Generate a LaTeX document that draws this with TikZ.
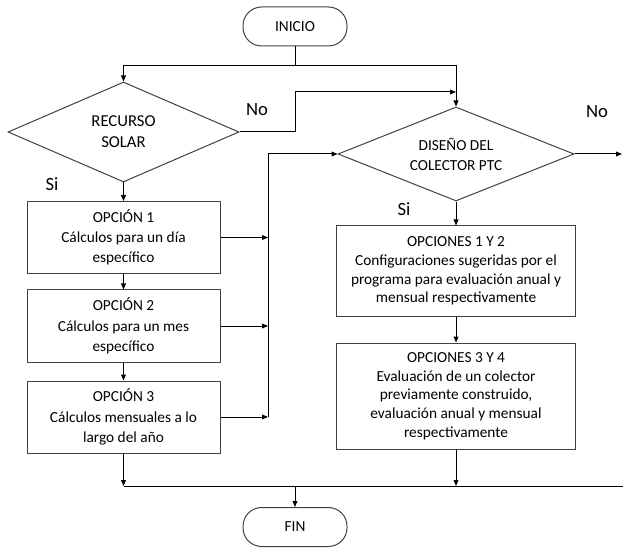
\documentclass[tikz,border=0pt]{standalone}
\usepackage{fontspec}
\setmainfont{Carlito}
\usepackage{xcolor}
\usetikzlibrary{shapes.geometric,arrows.meta}

\definecolor{borde}{RGB}{64,64,64}

\begin{document}
\begin{tikzpicture}[x=0.75pt, y=-0.75pt, line width=0.75pt,
    >={Triangle[length=4.5pt,width=3.6pt]},
    terminal/.style={draw=borde, rectangle, rounded corners=14pt, minimum width=78pt, minimum height=29.25pt, font=\fontsize{11.5}{14}\selectfont},
    decision/.style={draw=borde, diamond, inner sep=0pt, align=center, font=\fontsize{11.5}{15}\selectfont},
    caja/.style={draw=borde, rectangle, inner sep=0pt, align=center, minimum width=144.75pt, minimum height=54pt, font=\fontsize{11.5}{15.25}\selectfont},
    cajaB/.style={draw=borde, rectangle, inner sep=0pt, align=center, minimum width=179.25pt, font=\fontsize{11.5}{14}\selectfont},
    rotulo/.style={font=\fontsize{14}{16}\selectfont}]
    \useasboundingbox (0,0) rectangle (623,548);

    % nodos
    \node[terminal] (inicio) at (295,26.5) {INICIO};
    \node[decision, aspect=2.31, minimum width=173.25pt, minimum height=75pt, font=\fontsize{12.5}{15.75}\selectfont] (recurso) at (123.5,132) {RECURSO\\SOLAR};
    \node[decision, aspect=2.51, minimum width=177pt, minimum height=70.5pt] (diseno) at (456,154) {DISEÑO DEL\\COLECTOR PTC};
    \node[caja] (op1) at (123.5,237.5) {OPCIÓN 1\\Cálculos para un día\\específico};
    \node[caja] (op2) at (123.5,326) {OPCIÓN 2\\Cálculos para un mes\\específico};
    \node[caja] (op3) at (123.5,417) {OPCIÓN 3\\Cálculos mensuales a lo\\largo del año};
    \node[cajaB, minimum height=67.5pt] (opA) at (456,271) {OPCIONES 1 Y 2\\Configuraciones sugeridas por el\\programa para evaluación anual y\\mensual respectivamente};
    \node[cajaB, minimum height=79.5pt] (opB) at (456,396) {OPCIONES 3 Y 4\\Evaluación de un colector\\previamente construido,\\evaluación anual y mensual\\respectivamente};
    \node[terminal] (fin) at (295,527) {FIN};

    \node[rotulo] (no1) at (257,110) {No};
    \node[rotulo] (si1) at (52,184) {Si};
    \node[rotulo] (no2) at (597,112) {No};
    \node[rotulo] (si2) at (404,209) {Si};

    \coordinate (reparto) at (295,66);
    \coordinate (codo) at (295,92);
    \coordinate (junta) at (456,92);
    \coordinate (bus) at (268,417);
    \coordinate (salida) at (622,154);
    \coordinate (union) at (123.5,486);
    \coordinate (borde) at (623,486);

    % conectores
    \draw (inicio) -- (reparto);
    \draw[->] (reparto) -| (recurso);
    \draw[->] (reparto) -| (diseno);
    \draw (recurso.east) -| (codo);
    \draw[->] (codo) -- (junta);
    \draw[->] (recurso) -- (op1);
    \draw[->] (op1) -- (op2);
    \draw[->] (op2) -- (op3);
    \draw[->] (op1) -- (op1 -| bus);
    \draw[->] (op2) -- (op2 -| bus);
    \draw[->] (op3) -- (bus);
    \draw[->] (bus) |- (diseno);
    \draw[->] (diseno) -- (salida);
    \draw[->] (diseno) -- (opA);
    \draw[->] (opA) -- (opB);
    \draw[->] (op3) -- (union);
    \draw[->] (opB) -- (opB |- union);
    \draw (union) -- (borde);
    \draw[->] (fin |- union) -- (fin);
\end{tikzpicture}
\end{document}
